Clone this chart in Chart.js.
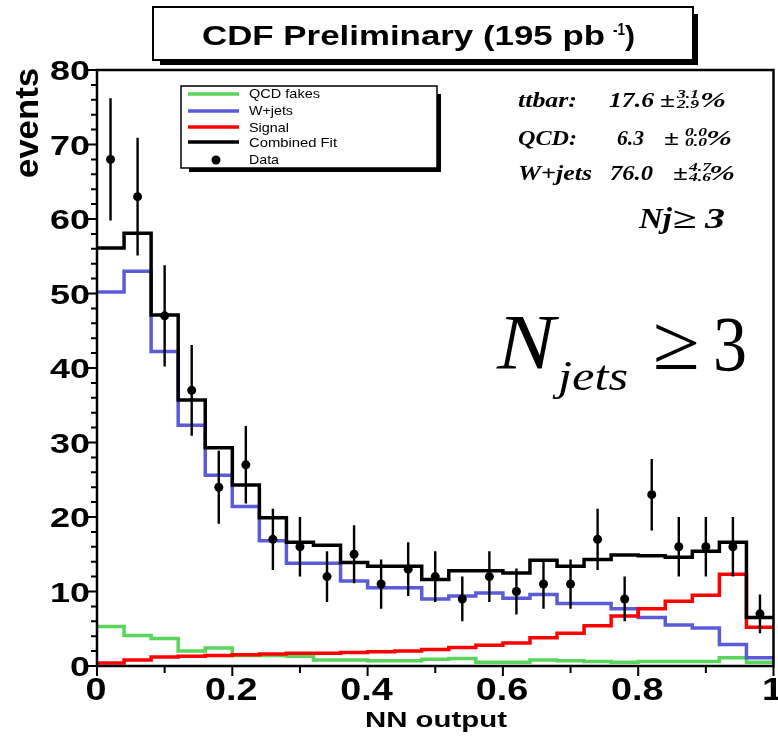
<!DOCTYPE html>
<html>
<head>
<meta charset="utf-8">
<title>CDF Preliminary - NN output, Nj >= 3</title>
<script src="https://cdn.jsdelivr.net/npm/chart.js@4.4.1/dist/chart.umd.min.js"></script>
<style>
  html, body { margin: 0; padding: 0; background: #fff; }
  canvas { display: block; }
</style>
</head>
<body>
<canvas id="nnChart" width="778" height="736"></canvas>
<script>
// NN output template fit (CDF Preliminary, 195 pb^-1), Njets >= 3

// Binning: 25 bins of 0.04
const binEdges = [0, 0.04, 0.08, 0.12, 0.16, 0.2, 0.24, 0.28, 0.32, 0.36, 0.4, 0.44, 0.48,
  0.52, 0.56, 0.6, 0.64, 0.68, 0.72, 0.76, 0.8, 0.84, 0.88, 0.92, 0.96, 1];
const binCenters = [0.02, 0.06, 0.1, 0.14, 0.18, 0.22, 0.26, 0.3, 0.34, 0.38, 0.42, 0.46,
  0.5, 0.54, 0.58, 0.62, 0.66, 0.7, 0.74, 0.78, 0.82, 0.86, 0.9, 0.94, 0.98];

// Templates (events per bin)
const qcdFakes = [5.3, 4.1, 3.7, 2.0, 2.4, 1.4, 1.4, 1.3, 0.8, 0.8, 0.7, 0.7, 0.9,
  1.0, 0.5, 0.5, 0.8, 0.7, 0.6, 0.5, 0.6, 0.6, 0.6, 1.1, 0.5];
const wJets = [50.2, 53.0, 42.2, 32.3, 25.6, 21.4, 16.8, 13.8, 13.8, 11.4, 10.5, 10.5, 9.0,
  9.4, 9.8, 9.1, 9.6, 8.4, 8.4, 7.7, 6.5, 5.5, 5.1, 2.9, 1.1];
const signal = [0.4, 0.8, 1.2, 1.3, 1.4, 1.5, 1.6, 1.7, 1.7, 1.8, 1.9, 2.0, 2.2,
  2.5, 2.8, 3.1, 3.8, 4.4, 5.4, 6.7, 7.7, 8.7, 9.5, 12.3, 5.2];
const combinedFit = [56.1, 58.1, 47.1, 35.7, 29.3, 24.3, 19.9, 16.6, 16.2, 13.9, 13.4, 13.4, 11.6,
  12.8, 12.8, 12.5, 14.2, 13.4, 14.3, 14.9, 14.8, 14.6, 15.4, 16.6, 6.5];

// Data points and their error bars
const dataCounts = [68, 63, 47, 37, 24, 27, 17, 16, 12, 15, 11, 13, 12,
  9, 12, 10, 11, 11, 17, 9, 23, 16, 16, 16, 7];
const dataErr = [8.2, 7.9, 6.8, 6.1, 4.9, 5.2, 4.1, 4.0, 3.4, 3.9, 3.3, 3.6, 3.4,
  3.0, 3.4, 3.1, 3.3, 3.3, 4.1, 3.0, 4.8, 4.0, 4.0, 4.0, 2.6];

// Axis ticks and labels
const xTicks = [0, 0.2, 0.4, 0.6, 0.8, 1];
const xTickLabels = ['0', '0.2', '0.4', '0.6', '0.8', '1'];
const yTicks = [0, 10, 20, 30, 40, 50, 60, 70, 80];
const yTickLabels = ['0', '10', '20', '30', '40', '50', '60', '70', '80'];

// Fit results box
const statNames = ['ttbar:', 'QCD:', 'W+jets'];
const statValues = ['17.6', '6.3', '76.0'];
const statUp = ['3.1', '0.0', '4.7'];
const statDown = ['2.9', '0.0', '4.6'];

const GREEN = '#5ad45a';
const BLUE = '#5b5bd9';
const RED = '#ff0000';
const SANS = '"Liberation Sans", Arial, sans-serif';
const SERIF = '"Liberation Serif", "Times New Roman", serif';

// histogram as a step line: one point per lower bin edge + closing edge
function histPoints(vals) {
  const pts = vals.map((v, i) => ({ x: binEdges[i], y: v }));
  pts.push({ x: binEdges[vals.length], y: vals[vals.length - 1] });
  return pts;
}

// draw text squeezed/stretched to a given width (the original fonts are wide)
function fitText(ctx, str, x, y, w, font, color) {
  ctx.save();
  ctx.font = font;
  ctx.fillStyle = color || '#000';
  ctx.textAlign = 'left';
  ctx.textBaseline = 'alphabetic';
  const m = ctx.measureText(str).width;
  ctx.translate(x, y);
  ctx.scale(w / m, 1);
  ctx.fillText(str, 0, 0);
  ctx.restore();
}

function histDataset(label, vals, color, order) {
  return {
    label: label,
    data: histPoints(vals),
    borderColor: color,
    backgroundColor: color,
    borderWidth: 3.5,
    stepped: true,
    pointRadius: 0,
    fill: false,
    order: order
  };
}

const decorPlugin = {
  id: 'decor',
  afterDatasetsDraw(chart) {
    const ctx = chart.ctx;
    const xs = chart.scales.x;
    const ys = chart.scales.y;
    // error bars on data points
    ctx.save();
    ctx.strokeStyle = '#000';
    ctx.lineWidth = 2.4;
    ctx.beginPath();
    binCenters.forEach((c, i) => {
      const px = xs.getPixelForValue(c);
      ctx.moveTo(px, ys.getPixelForValue(dataCounts[i] - dataErr[i]));
      ctx.lineTo(px, ys.getPixelForValue(dataCounts[i] + dataErr[i]));
    });
    ctx.stroke();
    ctx.restore();
  },
  afterDraw(chart) {
    const ctx = chart.ctx;
    const area = chart.chartArea;
    const xs = chart.scales.x;
    const ys = chart.scales.y;

    ctx.save();
    // frame
    ctx.strokeStyle = '#000';
    ctx.lineWidth = 2.5;
    ctx.strokeRect(area.left, area.top, area.right - area.left, area.bottom - area.top);

    // y ticks: every 2, longer every 10
    ctx.lineWidth = 2;
    ctx.beginPath();
    for (let v = 0; v <= 80; v += 2) {
      const py = ys.getPixelForValue(v);
      const len = v % 10 === 0 ? 10 : 6;
      ctx.moveTo(area.left - len, py);
      ctx.lineTo(area.left, py);
    }
    // x ticks: every 0.1, longer every 0.2
    for (let k = 0; k <= 10; k++) {
      const px = xs.getPixelForValue(k / 10);
      const len = k % 2 === 0 ? 10 : 7;
      ctx.moveTo(px, area.bottom);
      ctx.lineTo(px, area.bottom + len);
    }
    ctx.stroke();

    // tick labels
    yTicks.forEach((v, i) => {
      const s = yTickLabels[i];
      const w = 20 * s.length;
      fitText(ctx, s, 90 - w, ys.getPixelForValue(v) + 10, w, 'bold 28px ' + SANS);
    });
    xTicks.forEach((v, i) => {
      const s = xTickLabels[i];
      ctx.font = 'bold 32px ' + SANS;
      const w = ctx.measureText(s).width * 1.18;
      fitText(ctx, s, xs.getPixelForValue(v) - w / 2 - 1, 700, w, 'bold 32px ' + SANS);
    });

    // axis titles
    fitText(ctx, 'NN output', 365, 727, 142, 'bold 22px ' + SANS);
    ctx.save();
    ctx.translate(38, 178);
    ctx.rotate(-Math.PI / 2);
    fitText(ctx, 'events', 0, 0, 110, 'bold 34px ' + SANS);
    ctx.restore();

    // title box with shadow
    ctx.fillStyle = '#000';
    ctx.fillRect(160, 60, 538, 5);
    ctx.fillRect(693, 14, 5, 51);
    ctx.fillStyle = '#fff';
    ctx.fillRect(153, 7, 540, 53);
    ctx.lineWidth = 2;
    ctx.strokeRect(153, 7, 540, 53);
    fitText(ctx, 'CDF Preliminary (195 pb', 202, 45, 403, 'bold 28px ' + SANS);
    fitText(ctx, '-1', 613, 35, 12, 'bold 16px ' + SANS);
    fitText(ctx, ')', 625, 45, 10, 'bold 28px ' + SANS);

    // legend box with shadow
    ctx.fillStyle = '#000';
    ctx.fillRect(189, 168, 252, 4);
    ctx.fillRect(437, 94, 4, 78);
    ctx.fillStyle = '#fff';
    ctx.fillRect(181, 86, 256, 82);
    ctx.lineWidth = 1.5;
    ctx.strokeRect(181, 86, 256, 82);
    const ds = chart.data.datasets;
    const legendOrder = [0, 1, 2, 3, 4];
    const lineY = [94, 111, 127, 142, 160];
    const textBase = [98, 115, 132, 147, 164];
    const textW = [71, 44, 40, 88, 30];
    legendOrder.forEach((di, i) => {
      const d = ds[di];
      if (d.type === 'scatter') {
        ctx.fillStyle = '#000';
        ctx.beginPath();
        ctx.arc(216, lineY[i], 4.5, 0, Math.PI * 2);
        ctx.fill();
      } else {
        ctx.strokeStyle = d.borderColor;
        ctx.lineWidth = 3.5;
        ctx.beginPath();
        ctx.moveTo(188, lineY[i]);
        ctx.lineTo(239, lineY[i]);
        ctx.stroke();
      }
      fitText(ctx, d.label, 249, textBase[i], textW[i], '13px ' + SANS);
    });

    // fit results
    const big = 'bold italic 20px ' + SERIF;
    const small = 'bold italic 13px ' + SERIF;
    const rowY = [107, 145, 180];
    const nameW = [59, 59, 74];
    const valX = [609, 617, 610];
    const valW = [45, 27, 43];
    const pmX = [660, 664, 673];
    const supX = [677, 685, 689];
    const pctX = [700, 706, 709];
    statNames.forEach((n, i) => {
      const y = rowY[i];
      fitText(ctx, n, 518, y, nameW[i], big);
      fitText(ctx, statValues[i], valX[i], y, valW[i], big);
      fitText(ctx, '\u00b1', pmX[i], y, 15, 'bold 20px ' + SERIF);
      fitText(ctx, statUp[i], supX[i], y - 9.5, 22, small);
      fitText(ctx, statDown[i], supX[i], y + 1, 22, small);
      fitText(ctx, '%', pctX[i], y, 26, big);
    });
    fitText(ctx, 'Nj', 639, 228, 33, 'bold italic 29px ' + SERIF);
    fitText(ctx, '\u2265', 673, 228, 24, 'bold 29px ' + SERIF);
    fitText(ctx, '3', 705, 228, 20, 'bold italic 29px ' + SERIF);

    // big N_jets >= 3 label
    fitText(ctx, 'N', 497, 368, 58, 'italic 78px ' + SERIF);
    fitText(ctx, 'jets', 558, 390, 70, 'italic 42px ' + SERIF);
    fitText(ctx, '\u2265', 653, 369, 47, '78px ' + SERIF);
    fitText(ctx, '3', 713, 370, 34, '78px ' + SERIF);
    ctx.restore();
  }
};

const ctx = document.getElementById('nnChart').getContext('2d');
new Chart(ctx, {
  type: 'line',
  data: {
    datasets: [
      histDataset('QCD fakes', qcdFakes, GREEN, 4),
      histDataset('W+jets', wJets, BLUE, 3),
      histDataset('Signal', signal, RED, 2),
      histDataset('Combined Fit', combinedFit, '#000', 1),
      {
        type: 'scatter',
        label: 'Data',
        data: binCenters.map((c, i) => ({ x: c, y: dataCounts[i] })),
        showLine: false,
        pointRadius: 4.5,
        pointBackgroundColor: '#000',
        pointBorderWidth: 0,
        order: 0
      }
    ]
  },
  options: {
    responsive: false,
    animation: false,
    events: [],
    layout: { padding: { top: 70, left: 0, right: 2, bottom: 0 } },
    plugins: {
      legend: { display: false },
      tooltip: { enabled: false },
      title: { display: false }
    },
    scales: {
      x: {
        type: 'linear',
        min: 0,
        max: 1,
        grid: { display: false },
        border: { display: false },
        ticks: { display: false },
        afterFit(scale) { scale.height = 70; }
      },
      y: {
        type: 'linear',
        min: 0,
        max: 80,
        grid: { display: false },
        border: { display: false },
        ticks: { display: false },
        afterFit(scale) { scale.width = 97; }
      }
    }
  },
  plugins: [decorPlugin]
});
</script>
</body>
</html>
